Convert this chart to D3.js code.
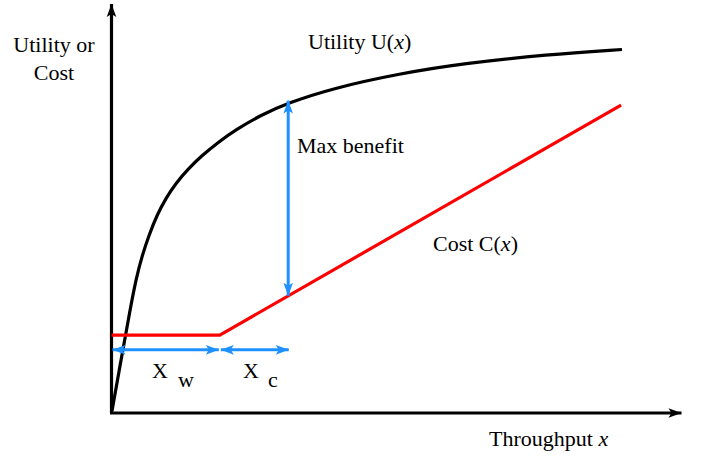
<!DOCTYPE html>
<html>
<head>
<meta charset="utf-8">
<script src="https://cdn.jsdelivr.net/npm/d3@7"></script>
<style>
  html, body { margin: 0; padding: 0; background: #fff; }
  svg { display: block; }
</style>
</head>
<body>
<svg id="chart" width="702" height="458"></svg>
<script>
// ---- data (arbitrary units) ----
const utilityX = [0.009, 0.167, 0.325, 0.430, 0.535, 0.658, 0.798, 0.956, 1.132, 1.342, 1.588, 1.868, 2.184, 2.605, 3.096, 3.886, 5.061, 6.167, 7.640, 8.956];
const utilityY = [0.049, 1.293, 2.512, 3.268, 3.829, 4.341, 4.829, 5.244, 5.610, 5.951, 6.280, 6.602, 6.910, 7.256, 7.561, 7.922, 8.280, 8.524, 8.744, 8.866];
const costX = [0, 1.90, 8.94];
const costY = [1.90, 1.90, 7.51];
const xwRange = [0, 1.90];
const xcRange = [1.90, 3.11];
const spanY = 1.54;
const benefitX = 3.10;
const benefitRange = [2.86, 7.62];
const labels = {
  yTitle: ["Utility or", "Cost"],
  xTitle: "Throughput ",
  utility: "Utility U(",
  cost: "Cost C(",
  benefit: "Max benefit"
};

// ---- scales ----
const x = d3.scaleLinear().domain([0, 10]).range([111.5, 681.5]);
const y = d3.scaleLinear().domain([0, 10]).range([413, 3]);

const FONT = "'Liberation Serif', 'Times New Roman', Times, 'DejaVu Serif', serif";
const svg = d3.select("#chart")
  .attr("font-family", FONT)
  .attr("font-size", 22);
const defs = svg.append("defs");
function marker(id, color) {
  defs.append("marker")
    .attr("id", id)
    .attr("viewBox", "-14 -6 15 12")
    .attr("refX", 0).attr("refY", 0)
    .attr("markerWidth", 15).attr("markerHeight", 12)
    .attr("markerUnits", "userSpaceOnUse")
    .attr("orient", "auto-start-reverse")
    .append("path")
    .attr("d", "M0,0 L-13,-4.8 L-10,0 L-13,4.8 Z")
    .attr("fill", color);
}
marker("arrBlack", "#000");
marker("arrBlue", "#1e90ff");

// ---- axes ----
svg.append("line")
  .attr("x1", x(0)).attr("y1", y(0)).attr("x2", x(0)).attr("y2", y(10) + 1)
  .attr("stroke", "#000").attr("stroke-width", 3.2)
  .attr("marker-end", "url(#arrBlack)");
svg.append("line")
  .attr("x1", x(0) - 1.5).attr("y1", y(0)).attr("x2", x(10)).attr("y2", y(0))
  .attr("stroke", "#000").attr("stroke-width", 3.2)
  .attr("marker-end", "url(#arrBlack)");

// ---- utility curve ----
const line = d3.line().x(d => x(d[0])).y(d => y(d[1])).curve(d3.curveBasis);
svg.append("path")
  .datum(utilityX.map((v, i) => [v, utilityY[i]]))
  .attr("d", line)
  .attr("fill", "none").attr("stroke", "#000").attr("stroke-width", 3.2)
  .attr("stroke-linejoin", "round");

// ---- cost line ----
svg.append("path")
  .datum(costX.map((v, i) => [v, costY[i]]))
  .attr("d", d3.line().x(d => x(d[0])).y(d => y(d[1])))
  .attr("fill", "none").attr("stroke", "#ff0000").attr("stroke-width", 3.2);

// ---- blue arrows ----
function blueArrow(x1, y1, x2, y2, both) {
  const l = svg.append("line")
    .attr("x1", x1).attr("y1", y1).attr("x2", x2).attr("y2", y2)
    .attr("stroke", "#1e90ff").attr("stroke-width", 3)
    .attr("marker-end", "url(#arrBlue)");
  if (both) l.attr("marker-start", "url(#arrBlue)");
}
blueArrow(x(xwRange[0]) + 1, y(spanY), x(xwRange[1]) - 1, y(spanY), true);
blueArrow(x(xcRange[0]) + 1, y(spanY), x(xcRange[1]), y(spanY), true);
blueArrow(x(benefitX), y(benefitRange[0]), x(benefitX), y(benefitRange[1]), true);

// ---- text ----
function txt(px, py) {
  return svg.append("text").attr("x", px).attr("y", py)
    .attr("font-family", FONT).attr("font-size", 22).attr("fill", "#000");
}
txt(54, 52).attr("text-anchor", "middle").text(labels.yTitle[0]);
txt(54, 80).attr("text-anchor", "middle").text(labels.yTitle[1]);

const tx = txt(489, 446).text(labels.xTitle);
tx.append("tspan").attr("font-style", "italic").text("x");

const tu = txt(308, 49).text(labels.utility);
tu.append("tspan").attr("font-style", "italic").text("x");
tu.append("tspan").text(")");

const tc = txt(433, 251).text(labels.cost);
tc.append("tspan").attr("font-style", "italic").text("x");
tc.append("tspan").text(")");

txt(297, 153).text(labels.benefit);

const xw = txt(152, 378).text("X");
xw.append("tspan").attr("x", 178).attr("y", 387).text("w");
const xc = txt(243, 378).text("X");
xc.append("tspan").attr("x", 268).attr("y", 387).text("c");
</script>
</body>
</html>
